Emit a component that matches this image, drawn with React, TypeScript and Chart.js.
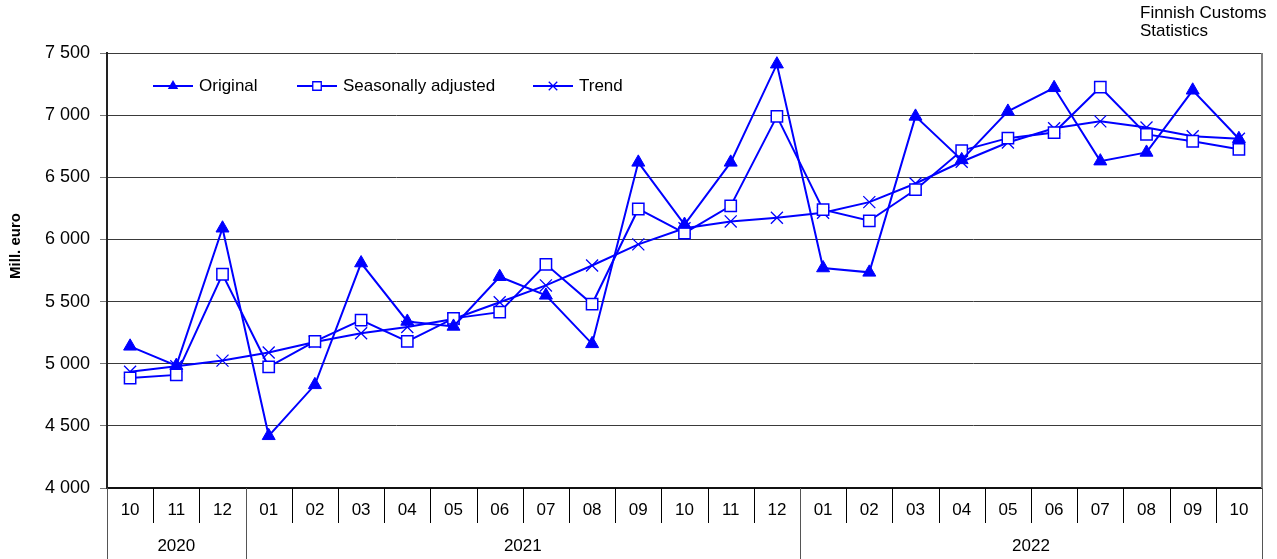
import React, { useEffect, useRef } from 'react';
import { Chart, registerables } from 'chart.js';

Chart.register(...registerables);

const FONT = '"Liberation Sans", Arial, Helvetica, sans-serif';
const BLUE = '#0000FF';

// Category axis: months, grouped by year
const months = ['10', '11', '12', '01', '02', '03', '04', '05', '06', '07', '08', '09', '10', '11', '12', '01', '02', '03', '04', '05', '06', '07', '08', '09', '10'];
const yearLabels = ['2020', '2021', '2022'];
const monthsPerYear = [3, 12, 10];

// Series values (million euro)
const original = [5140, 4985, 6090, 4420, 4830, 5810, 5340, 5300, 5700, 5550, 5160, 6620, 6120, 6620, 7410, 5770, 5735, 6990, 6640, 7030, 7220, 6630, 6700, 7200, 6810];
const seasonallyAdjusted = [4885, 4910, 5720, 4975, 5180, 5350, 5180, 5365, 5415, 5800, 5480, 6245, 6050, 6270, 6990, 6240, 6150, 6400, 6715, 6815, 6860, 7225, 6845, 6790, 6725];
const trend = [4935, 4980, 5025, 5090, 5175, 5245, 5295, 5360, 5495, 5630, 5790, 5960, 6090, 6145, 6175, 6215, 6300, 6450, 6625, 6780, 6895, 6950, 6900, 6830, 6810];

const seriesNames = ['Original', 'Seasonally adjusted', 'Trend'];
const yMin = 4000;
const yMax = 7500;
const yStep = 500;

const fmt = (v: number) => {
  const s = String(Math.round(v));
  return s.length > 3 ? s.slice(0, -3) + ' ' + s.slice(-3) : s;
};

function drawMarker(ctx: CanvasRenderingContext2D, kind: string, x: number, y: number, r: number) {
  ctx.save();
  ctx.strokeStyle = BLUE;
  ctx.fillStyle = BLUE;
  ctx.lineWidth = 1.3;
  ctx.beginPath();
  if (kind === 'triangle') {
    ctx.moveTo(x, y - r);
    ctx.lineTo(x + r * 0.866, y + r * 0.5);
    ctx.lineTo(x - r * 0.866, y + r * 0.5);
    ctx.closePath();
    ctx.fill();
  } else if (kind === 'rect') {
    const h = r * 0.707;
    ctx.fillStyle = '#fff';
    ctx.rect(x - h, y - h, 2 * h, 2 * h);
    ctx.fill();
    ctx.stroke();
  } else {
    const h = r * 0.707;
    ctx.moveTo(x - h, y - h);
    ctx.lineTo(x + h, y + h);
    ctx.moveTo(x + h, y - h);
    ctx.lineTo(x - h, y + h);
    ctx.stroke();
  }
  ctx.restore();
}

const decorPlugin = {
  id: 'decor',
  afterDraw(chart: any) {
    const { ctx, chartArea } = chart;
    const xs = chart.scales.x;
    const n = months.length;
    const half = (xs.getPixelForValue(1) - xs.getPixelForValue(0)) / 2;
    const boundary = (i: number) => (i < n ? xs.getPixelForValue(i) - half : xs.getPixelForValue(n - 1) + half);
    const bottom = chartArea.bottom;
    const H = chart.height;

    // right border of the plot area
    ctx.save();
    ctx.strokeStyle = '#808080';
    ctx.lineWidth = 2;
    ctx.beginPath();
    ctx.moveTo(chartArea.right, chartArea.top);
    ctx.lineTo(chartArea.right, bottom);
    ctx.stroke();
    ctx.restore();

    // separators below the axis
    const yearStarts: number[] = [0];
    monthsPerYear.reduce((acc, m) => {
      yearStarts.push(acc + m);
      return acc + m;
    }, 0);
    ctx.save();
    ctx.lineWidth = 1;
    for (let i = 0; i <= n; i++) {
      const x = Math.round(boundary(i)) + 0.5;
      const isYear = yearStarts.includes(i);
      ctx.strokeStyle = isYear ? '#555' : '#000';
      ctx.beginPath();
      ctx.moveTo(x, bottom);
      ctx.lineTo(x, isYear ? H : bottom + 35);
      ctx.stroke();
    }
    // year labels
    ctx.fillStyle = '#000';
    ctx.font = `17px ${FONT}`;
    ctx.textAlign = 'center';
    ctx.textBaseline = 'middle';
    yearLabels.forEach((yl, k) => {
      const x0 = boundary(yearStarts[k]);
      const x1 = boundary(yearStarts[k + 1]);
      ctx.fillText(yl, (x0 + x1) / 2, bottom + 58);
    });

    // source note
    ctx.textAlign = 'left';
    ctx.textBaseline = 'middle';
    ctx.fillText('Finnish Customs', 1140, 13);
    ctx.fillText('Statistics', 1140, 31);

    // axis title
    ctx.save();
    ctx.translate(16, 246);
    ctx.rotate(-Math.PI / 2);
    ctx.font = `bold 15px ${FONT}`;
    ctx.textAlign = 'center';
    ctx.fillText('Mill. euro', 0, 0);
    ctx.restore();

    // legend
    const ly = chartArea.top + 33;
    const starts = [153, 297, 533];
    const kinds = ['triangle', 'rect', 'cross'];
    const radii = [6, 6, 6];
    seriesNames.forEach((name, k) => {
      const x0 = starts[k];
      const x1 = x0 + 40;
      ctx.strokeStyle = BLUE;
      ctx.lineWidth = 2;
      ctx.beginPath();
      ctx.moveTo(x0, ly);
      ctx.lineTo(x1, ly);
      ctx.stroke();
      drawMarker(ctx, kinds[k], (x0 + x1) / 2, ly, radii[k]);
      ctx.fillStyle = '#000';
      ctx.font = `17px ${FONT}`;
      ctx.textAlign = 'left';
      ctx.textBaseline = 'middle';
      ctx.fillText(name, x1 + 6, ly);
    });
    ctx.restore();
  },
};

export default function App() {
  const ref = useRef<HTMLCanvasElement>(null);

  useEffect(() => {
    const canvas = ref.current;
    if (!canvas) return;
    const chart = new Chart(canvas, {
      type: 'line',
      data: {
        labels: months,
        datasets: [
          {
            label: seriesNames[0],
            data: original,
            borderColor: BLUE,
            backgroundColor: BLUE,
            borderWidth: 2,
            pointStyle: 'triangle',
            pointRadius: 7.5,
            pointBackgroundColor: BLUE,
            pointBorderColor: BLUE,
            pointBorderWidth: 1,
            tension: 0,
          },
          {
            label: seriesNames[1],
            data: seasonallyAdjusted,
            borderColor: BLUE,
            backgroundColor: '#fff',
            borderWidth: 2,
            pointStyle: 'rect',
            pointRadius: 8,
            pointBackgroundColor: '#fff',
            pointBorderColor: BLUE,
            pointBorderWidth: 1.5,
            tension: 0,
          },
          {
            label: seriesNames[2],
            data: trend,
            borderColor: BLUE,
            backgroundColor: BLUE,
            borderWidth: 2,
            pointStyle: 'crossRot',
            pointRadius: 8.5,
            pointBorderColor: BLUE,
            pointBorderWidth: 1.3,
            tension: 0,
          },
        ],
      },
      options: {
        responsive: false,
        animation: false,
        events: [],
        devicePixelRatio: 1,
        layout: { padding: { left: 0, right: 15, top: 53, bottom: 0 } },
        plugins: {
          legend: { display: false },
          tooltip: { enabled: false },
          title: { display: false },
        },
        scales: {
          x: {
            type: 'category',
            offset: true,
            grid: { display: false, drawTicks: false },
            border: { display: true, color: '#111', width: 2 },
            ticks: {
              color: '#000',
              font: { family: FONT, size: 17 },
              padding: 12,
              maxRotation: 0,
              autoSkip: false,
            },
            afterFit: (s: any) => {
              s.height = 71;
            },
          },
          y: {
            min: yMin,
            max: yMax,
            grid: { color: '#3a3a3a', lineWidth: 1, tickLength: 7, tickColor: '#777' },
            border: { display: true, color: '#222', width: 2 },
            ticks: {
              stepSize: yStep,
              color: '#000',
              font: { family: FONT, size: 18 },
              padding: 10,
              callback: (v: any) => fmt(Number(v)),
            },
            afterFit: (s: any) => {
              s.width = 107;
            },
          },
        },
      },
      plugins: [decorPlugin],
    });
    return () => chart.destroy();
  }, []);

  return (
    <div style={{ position: 'absolute', left: 0, top: 0, width: 1277, height: 559, background: '#fff' }}>
      <canvas ref={ref} width={1277} height={559} style={{ display: 'block' }} />
    </div>
  );
}
